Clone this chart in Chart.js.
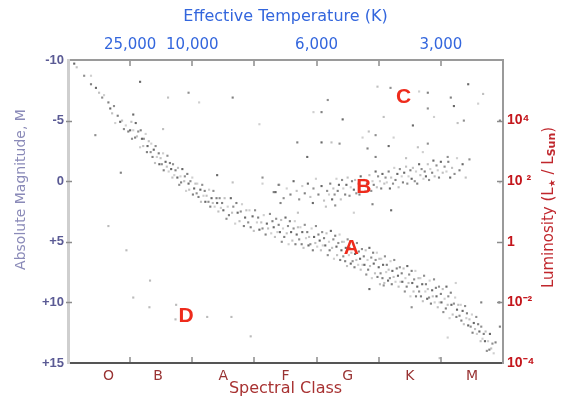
<!DOCTYPE html>
<html>
<head>
<meta charset="utf-8">
<script src="https://cdn.jsdelivr.net/npm/chart.js@4/dist/chart.umd.min.js"></script>
<style>
  html, body { margin: 0; padding: 0; background: #ffffff; }
  #wrap { width: 561px; height: 398px; }
</style>
</head>
<body>
<div id="wrap"><canvas id="c" width="561" height="398"></canvas></div>
<script>
// ---------- DATA (spectral position 0..7 on the class axis, absolute magnitude) ----------
const spectralClasses = ['O', 'B', 'A', 'F', 'G', 'K', 'M'];
const spectralPos = [0.65, 1.45, 2.5, 3.5, 4.5, 5.5, 6.5];
const spectralTicks = [1, 2, 3, 4, 5, 6];
const tempLabels = ['25,000', '10,000', '6,000', '3,000'];
const tempPos = [1, 2, 4, 6];
const magTicks = [-10, -5, 0, 5, 10, 15];
const magLabels = ['-10', '-5', '0', '+5', '+10', '+15'];
const lumTicks = [-5, 0, 5, 10, 15];
const lumLabels = ['10\u2074', '10 \u00B2', '1', '10\u207B\u00B2', '10\u207B\u2074'];
const regionNames = ['A', 'B', 'C', 'D'];
const regionSpec = [4.56, 4.76, 5.4, 1.9];
const regionMag = [5.5, 0.5, -6.9, 11.1];

const mainSequence = [
  [0.10,-9.7],[0.14,-9.4],[0.26,-8.7],[0.37,-8.7],[0.37,-8.0],[0.45,-7.7],[0.50,-7.3],[0.55,-6.9],[0.58,-7.1],[0.65,-6.5],
  [0.68,-6.0],[0.71,-5.6],[0.74,-6.2],[0.76,-4.8],[0.80,-5.4],[0.84,-4.9],[0.87,-5.0],[0.90,-4.3],[0.93,-4.6],[0.97,-4.1],
  [1.00,-4.2],[1.02,-4.9],[1.03,-3.5],[1.05,-4.2],[1.08,-3.6],[1.09,-4.8],[1.11,-3.7],[1.13,-4.1],[1.16,-2.8],[1.17,-4.2],
  [1.19,-3.5],[1.21,-2.9],[1.22,-3.5],[1.25,-3.9],[1.27,-2.4],[1.28,-2.9],[1.30,-3.3],[1.33,-2.4],[1.34,-3.1],[1.36,-2.0],
  [1.38,-2.6],[1.40,-1.5],[1.41,-2.9],[1.43,-2.0],[1.46,-2.3],[1.47,-1.4],[1.49,-1.9],[1.51,-1.4],[1.53,-2.3],[1.54,-0.9],
  [1.57,-1.6],[1.59,-1.2],[1.60,-2.1],[1.62,-0.8],[1.64,-1.5],[1.66,-1.0],[1.68,-0.3],[1.69,-1.4],[1.71,-0.5],[1.73,-0.9],
  [1.76,-0.3],[1.77,-1.1],[1.79,0.3],[1.81,-0.4],[1.82,0.1],[1.84,-1.0],[1.87,0.0],[1.88,-0.4],[1.90,0.8],[1.92,-0.6],
  [1.94,0.2],[1.95,0.7],[1.97,0.0],[2.00,-0.3],[2.01,1.1],[2.03,0.6],[2.05,0.2],[2.07,1.0],[2.08,0.2],[2.10,1.3],
  [2.13,0.7],[2.14,1.7],[2.16,0.3],[2.18,1.2],[2.20,0.8],[2.21,1.7],[2.23,1.2],[2.26,1.7],[2.27,0.7],[2.29,2.1],
  [2.31,1.4],[2.33,1.8],[2.34,0.8],[2.36,2.1],[2.39,1.4],[2.40,1.8],[2.42,2.5],[2.44,1.4],[2.46,2.2],[2.48,1.8],
  [2.50,2.4],[2.52,1.4],[2.55,3.1],[2.57,2.1],[2.59,2.8],[2.62,1.4],[2.64,2.6],[2.66,2.1],[2.69,3.5],[2.71,1.8],
  [2.73,2.6],[2.76,3.3],[2.78,2.5],[2.80,1.9],[2.83,3.7],[2.85,3.0],[2.87,2.4],[2.90,3.4],[2.92,2.4],[2.94,3.8],
  [2.97,2.9],[2.99,4.1],[3.01,2.4],[3.04,3.4],[3.06,3.0],[3.08,4.0],[3.11,3.4],[3.13,3.9],[3.15,2.8],[3.18,4.4],
  [3.20,3.5],[3.22,3.9],[3.25,2.7],[3.27,4.3],[3.29,3.3],
  [3.31,3.8],[3.33,4.6],[3.35,3.1],[3.37,4.2],[3.39,3.6],[3.41,4.2],[3.43,3.2],[3.44,5.0],[3.46,3.9],[3.48,4.6],
  [3.50,3.0],[3.52,4.3],[3.54,3.7],[3.55,5.2],[3.57,3.3],[3.59,4.2],[3.61,4.9],[3.63,3.9],[3.65,3.3],[3.66,5.2],
  [3.68,4.4],[3.70,3.8],[3.72,4.8],[3.74,3.8],[3.76,5.2],[3.77,4.2],[3.79,5.5],[3.81,3.6],[3.83,4.7],[3.85,4.2],
  [3.87,5.3],[3.88,4.6],[3.90,5.2],[3.92,3.9],[3.94,5.7],[3.96,4.6],[3.98,5.1],[3.99,3.7],[4.01,5.4],[4.03,4.4],
  [4.05,4.9],[4.07,5.7],[4.09,4.2],[4.10,5.3],[4.12,4.7],[4.14,5.3],[4.16,4.3],[4.18,6.1],[4.20,5.0],[4.21,5.7],
  [4.23,4.1],[4.25,5.5],[4.27,4.8],[4.28,6.4],[4.30,4.5],
  [4.32,5.4],[4.33,6.1],[4.35,5.1],[4.37,4.4],[4.38,6.5],[4.40,5.7],[4.41,5.0],[4.43,6.2],[4.44,5.0],[4.46,6.6],
  [4.47,5.5],[4.49,7.0],[4.50,4.8],[4.52,6.1],[4.53,5.5],[4.55,6.8],[4.56,5.9],[4.58,6.6],[4.59,5.2],[4.61,7.1],
  [4.62,6.0],[4.64,6.5],[4.65,5.1],[4.67,6.9],[4.68,5.8],[4.70,6.4],[4.71,7.3],[4.73,5.6],[4.74,6.9],[4.76,6.2],
  [4.77,6.9],[4.79,5.7],[4.80,7.7],[4.82,6.5],[4.83,7.3],[4.85,5.5],[4.86,7.0],[4.88,6.3],[4.89,8.0],[4.91,5.9],
  [4.92,6.8],[4.94,7.6],[4.95,6.5],[4.97,5.9],[4.98,7.9],[5.00,7.1],[5.01,6.4],[5.03,7.6],[5.04,6.4],[5.06,8.0],
  [5.07,6.9],[5.09,8.4],[5.10,6.2],[5.12,7.5],[5.13,6.9],[5.15,8.2],[5.16,7.3],[5.18,8.0],[5.19,6.6],[5.21,8.5],
  [5.22,7.4],[5.24,7.9],[5.25,6.5],[5.27,8.3],[5.29,7.2],
  [5.31,7.8],[5.32,8.7],[5.34,7.1],[5.35,8.3],[5.37,7.6],[5.38,8.3],[5.40,7.2],[5.42,9.1],[5.43,8.0],[5.45,8.7],
  [5.46,7.0],[5.48,8.4],[5.49,7.7],[5.51,9.5],[5.53,7.4],[5.54,8.4],[5.56,9.1],[5.57,8.1],[5.59,7.4],[5.60,9.5],
  [5.62,8.7],[5.64,8.0],[5.65,9.1],[5.67,8.0],[5.68,9.5],[5.70,8.5],[5.71,9.9],[5.73,7.8],[5.75,9.1],[5.76,8.5],
  [5.78,9.7],[5.79,8.9],[5.81,9.6],[5.82,8.2],[5.84,10.1],[5.86,9.0],[5.87,9.5],[5.89,8.1],[5.90,10.0],[5.92,8.8],
  [5.93,9.5],[5.95,10.4],[5.97,8.7],[5.98,10.0],[6.00,9.3],[6.01,10.0],[6.03,8.9],[6.04,10.8],[6.06,9.7],[6.08,10.5],
  [6.09,8.7],[6.11,10.2],[6.12,9.5],[6.14,11.3],[6.16,9.2],[6.17,10.2],[6.19,11.0],
  [6.21,10.1],[6.23,9.6],[6.25,11.2],[6.26,10.6],[6.28,10.2],[6.30,11.1],[6.32,10.2],[6.33,11.5],[6.35,10.7],[6.37,11.8],
  [6.39,10.3],[6.41,11.3],[6.42,10.9],[6.44,11.9],[6.46,11.4],[6.48,12.0],[6.50,11.0],[6.51,12.5],[6.53,11.7],[6.55,12.2],
  [6.57,11.2],[6.58,12.6],[6.60,11.8],[6.62,12.4],[6.64,13.2],[6.65,12.0],[6.67,13.0],[6.69,12.6],[6.71,13.2],[6.72,12.4],
  [6.74,14.0],[6.76,13.2],[6.78,13.9],[6.79,12.6],[6.81,13.8],[6.83,13.4],[6.85,14.2],[6.88,13.3]
];

const giants = [
  [3.34,0.9],[3.40,0.3],[3.47,1.4],[3.52,0.6],[3.58,1.1],[3.63,0.0],[3.68,0.8],[3.72,1.5],[3.77,0.4],[3.81,1.0],
  [3.86,0.2],[3.90,1.3],[3.95,0.6],[3.99,-0.2],[4.03,1.1],[4.08,0.4],[4.12,1.6],[4.17,0.8],
  [4.20,1.1],[4.22,0.2],[4.25,1.5],[4.27,0.6],[4.29,1.1],[4.32,-0.2],[4.34,0.8],[4.36,0.3],[4.39,1.5],[4.41,-0.1],
  [4.43,0.6],[4.46,1.1],[4.48,0.3],[4.50,-0.3],[4.53,1.2],[4.55,0.5],[4.57,0.0],[4.60,0.7],[4.62,-0.1],[4.64,1.0],
  [4.67,0.2],[4.69,1.1],[4.71,-0.4],[4.74,0.4],[4.76,-0.1],[4.78,0.8],[4.81,0.2],[4.83,0.6],[4.85,-0.5],[4.88,0.8],
  [4.90,0.0],[4.92,0.3],[4.95,-0.8],[4.97,0.5],[4.99,-0.4],[5.02,0.0],[5.04,0.6],[5.06,-0.6],[5.09,0.2],[5.11,-0.3],
  [5.13,0.1],[5.16,-0.8],[5.18,0.6],[5.20,-0.3],[5.23,0.2],[5.25,-1.1],[5.27,-0.1],[5.30,-0.6],[5.32,0.5],[5.34,-1.0],
  [5.37,-0.4],[5.39,0.1],[5.41,-0.7],[5.44,-1.2],[5.46,0.2],[5.48,-0.4],[5.51,-0.9],[5.53,-0.2],[5.55,-1.1],[5.58,0.0],
  [5.60,-0.8],[5.62,0.2],[5.65,-1.4],[5.67,-0.5],[5.69,-1.0],[5.72,-0.2],[5.74,-0.8],[5.76,-0.4],[5.79,-1.4],[5.81,-0.1],
  [5.83,-1.0],[5.86,-0.7],[5.88,-1.7],[5.90,-0.4],[5.93,-1.3],[5.95,-0.9],[5.97,-0.3],[6.00,-1.6],[6.03,-0.7],[6.06,-1.2],
  [6.09,-0.8],[6.12,-1.6],[6.15,-0.3],[6.18,-1.1],[6.22,-0.6],[6.26,-1.9],[6.30,-0.9],[6.35,-1.4],[6.40,-0.3],[6.46,-1.8]
];

const scattered = [
  [1.16,-8.2],[1.61,-6.9],[1.94,-7.3],[2.11,-6.5],[2.65,-6.9],[1.05,-5.5],[1.53,-4.3],[0.44,-3.8],[3.08,-4.7],[0.85,-0.7],
  [2.40,-0.5],[2.65,0.1],[3.13,-0.3],[3.13,0.2],[3.31,0.9],[3.39,0.3],
  [4.98,-7.8],[5.19,-7.7],[5.65,-7.4],[5.79,-7.3],[6.44,-8.0],[6.68,-7.2],[4.18,-6.7],[3.95,-5.7],[4.08,-5.7],[4.42,-5.1],
  [5.08,-5.3],[5.79,-6.0],[5.89,-5.3],[6.16,-6.9],[6.21,-6.2],[6.27,-4.8],[6.37,-5.0],[6.60,-6.4],[6.95,-5.0],[5.55,-4.6],
  [4.84,-4.1],[4.95,-3.8],[5.24,-3.6],[3.69,-3.2],[4.08,-3.2],[4.24,-3.2],[4.37,-3.1],[4.74,-3.6],[4.82,-2.7],[5.16,-2.9],
  [5.63,-2.8],[5.79,-3.1],[5.71,-2.4],[4.95,-2.0],[3.85,-2.0],[5.44,-1.9],[6.11,-2.0],[6.95,0.1],
  [3.42,1.8],[3.94,1.8],[4.15,2.1],[4.30,2.0],[4.60,2.6],[4.90,1.9],[5.20,2.4],[3.70,2.6],
  [5.53,10.4],[6.11,12.9],[6.95,12.0],[4.85,8.9],[5.02,8.5],[5.08,8.6],[6.24,8.4],[6.65,10.0],[6.94,10.0],[5.98,14.6]
];

const whiteDwarfs = [
  [0.65,3.7],[0.94,5.7],[1.32,8.2],[1.05,9.6],[1.31,10.4],[1.74,10.2],[1.73,11.4],[2.24,11.2],[2.63,11.2],[2.94,12.8]
];

// ---------- helpers ----------
const toXY = arr => arr.map(p => ({ x: p[0], y: p[1] }));
const tickSetter = vals => scale => { scale.ticks = vals.map(v => ({ value: v })); };
const shades = ['rgba(55,55,55,0.75)', 'rgba(150,150,150,0.6)', 'rgba(95,95,95,0.7)', 'rgba(175,175,175,0.6)', 'rgba(75,75,75,0.7)'];
const shadeFor = c => shades[c.dataIndex % shades.length];

const decor = {
  id: 'decor',
  afterDatasetsDraw(chart) {
    const { ctx, chartArea: a, scales } = chart;
    ctx.save();
    ctx.strokeStyle = '#8c8c8c';
    ctx.lineWidth = 1.5;
    const seg = (x1, y1, x2, y2) => { ctx.beginPath(); ctx.moveTo(x1, y1); ctx.lineTo(x2, y2); ctx.stroke(); };
    spectralTicks.forEach(v => {
      const x = Math.round(scales.x.getPixelForValue(v));
      seg(x, a.bottom - 1, x, a.bottom - 6);
      seg(x, a.top + 1, x, a.top + 6);
    });
    lumTicks.forEach(v => {
      if (v >= 15) return;
      const y = Math.round(scales.y.getPixelForValue(v)) + 0.5;
      seg(a.left - 2, y, a.left + 4, y);
      seg(a.right - 6, y, a.right, y);
    });
    // region labels
    ctx.fillStyle = '#ee2b1c';
    ctx.font = 'bold 21px "Liberation Sans", Arial, sans-serif';
    ctx.textAlign = 'center';
    ctx.textBaseline = 'middle';
    regionNames.forEach((t, i) => {
      ctx.fillText(t, scales.x.getPixelForValue(regionSpec[i]), scales.y.getPixelForValue(regionMag[i]));
    });
    // left axis title
    ctx.save();
    ctx.translate(scales.y.left + 21, (a.top + a.bottom) / 2 - 22);
    ctx.rotate(-Math.PI / 2);
    ctx.fillStyle = '#8a8ab8';
    ctx.font = '14px "DejaVu Sans", Verdana, sans-serif';
    ctx.fillText('Absolute Magnitude, M', 0, 0);
    ctx.restore();
    // right axis title with subscripts
    const parts = [
      { t: 'Luminosity (L', f: '15px "DejaVu Sans", sans-serif', dy: 0 },
      { t: '\u2605', f: 'bold 9px "DejaVu Sans", sans-serif', dy: 4 },
      { t: ' / L', f: '15px "DejaVu Sans", sans-serif', dy: 0 },
      { t: 'Sun', f: 'bold 11px "DejaVu Sans", sans-serif', dy: 3 },
      { t: ')', f: '15px "DejaVu Sans", sans-serif', dy: 0 }
    ];
    ctx.save();
    ctx.translate(scales.y2.left + 46, (a.top + a.bottom) / 2 - 4);
    ctx.rotate(-Math.PI / 2);
    ctx.fillStyle = '#c0272d';
    ctx.textAlign = 'left';
    ctx.textBaseline = 'middle';
    let total = 0;
    parts.forEach(p => { ctx.font = p.f; p.w = ctx.measureText(p.t).width; total += p.w; });
    let cx = -total / 2;
    parts.forEach(p => { ctx.font = p.f; ctx.fillText(p.t, cx, p.dy); cx += p.w; });
    ctx.restore();
    ctx.restore();
  }
};

const pointBase = { type: 'scatter', pointStyle: 'rect', borderWidth: 0, pointRadius: 1.5, xAxisID: 'x', yAxisID: 'y', backgroundColor: shadeFor };
const noGrid = { display: false, drawTicks: false, tickLength: 0 };
const sans = '"DejaVu Sans", Verdana, sans-serif';
const bold = '"Liberation Sans", Arial, sans-serif';

new Chart(document.getElementById('c'), {
  type: 'scatter',
  data: {
    datasets: [
      Object.assign({}, pointBase, { label: 'Main sequence', data: toXY(mainSequence) }),
      Object.assign({}, pointBase, { label: 'Giants', data: toXY(giants) }),
      Object.assign({}, pointBase, { label: 'Supergiants & others', data: toXY(scattered) }),
      Object.assign({}, pointBase, { label: 'White dwarfs', data: toXY(whiteDwarfs), backgroundColor: 'rgba(120,120,120,0.5)' })
    ]
  },
  options: {
    responsive: false,
    animation: false,
    events: [],
    layout: { padding: 0 },
    plugins: { legend: { display: false }, tooltip: { enabled: false } },
    scales: {
      x: {
        type: 'linear', position: 'bottom', min: 0, max: 7,
        afterBuildTicks: tickSetter(spectralPos),
        afterFit: s => { s.height = 35; },
        grid: noGrid,
        border: { display: true, color: '#555555', width: 2 },
        ticks: {
          autoSkip: false, maxRotation: 0, padding: 5, color: '#993333',
          font: { family: sans, size: 14 },
          callback: (v, i) => spectralClasses[i]
        },
        title: {
          display: true, text: 'Spectral Class', color: '#a83232',
          font: { family: sans, size: 16 },
          padding: { top: 0, bottom: 0 }
        }
      },
      x2: {
        type: 'linear', position: 'top', min: 0, max: 7,
        afterBuildTicks: tickSetter(tempPos),
        afterFit: s => { s.height = 60; },
        grid: noGrid,
        border: { display: true, color: '#9a9a9a', width: 2 },
        ticks: {
          autoSkip: false, maxRotation: 0, padding: 6, color: '#3366dd',
          font: { family: sans, size: 15 },
          callback: (v, i) => tempLabels[i]
        },
        title: {
          display: true, text: 'Effective Temperature (K)', color: '#3366dd',
          font: { family: sans, size: 16 },
          padding: { top: 7, bottom: 0 }
        }
      },
      y: {
        type: 'linear', position: 'left', min: -10, max: 15, reverse: true,
        afterBuildTicks: tickSetter(magTicks),
        afterFit: s => { s.width = 68; },
        grid: noGrid,
        border: { display: true, color: '#cfcfcf', width: 3 },
        ticks: {
          autoSkip: false, padding: 4, color: '#5a5a94',
          font: { family: bold, size: 13, weight: 'bold' },
          callback: (v, i) => magLabels[i]
        }
      },
      y2: {
        type: 'linear', position: 'right', min: -10, max: 15, reverse: true,
        afterBuildTicks: tickSetter(lumTicks),
        afterFit: s => { s.width = 58; },
        grid: noGrid,
        border: { display: true, color: '#9a9a9a', width: 2 },
        ticks: {
          autoSkip: false, padding: 4, color: '#c4161c',
          font: { family: bold, size: 14, weight: 'bold' },
          callback: (v, i) => lumLabels[i]
        }
      }
    }
  },
  plugins: [decor]
});
</script>
</body>
</html>
